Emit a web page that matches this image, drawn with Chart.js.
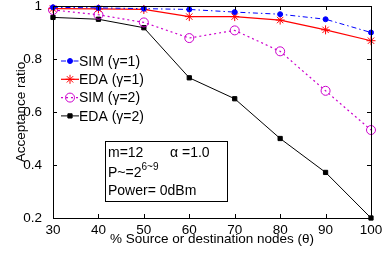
<!DOCTYPE html>
<html>
<head>
<meta charset="utf-8">
<script src="https://cdn.jsdelivr.net/npm/chart.js@4/dist/chart.umd.min.js"></script>
<style>
  html, body { margin: 0; padding: 0; background: #fff; }
  #wrap { width: 386px; height: 255px; }
</style>
</head>
<body>
<div id="wrap"><canvas id="chart" width="386" height="255"></canvas></div>
<script>
// values
const nodes = [30, 40, 50, 60, 70, 80, 90, 100];
const simG1 = [0.995, 0.993, 0.99, 0.987, 0.977, 0.969, 0.95, 0.90];
const edaG1 = [0.99, 0.989, 0.987, 0.96, 0.96, 0.947, 0.91, 0.869];
const simG2 = [0.985, 0.967, 0.938, 0.879, 0.908, 0.829, 0.68, 0.532];
const edaG2 = [0.957, 0.95, 0.918, 0.729, 0.65, 0.50, 0.372, 0.2];
const yTicks = [0.2, 0.4, 0.6, 0.8, 1];
const FONT = 'Liberation Sans, Arial, sans-serif';

const toPts = vals => vals.map((v, i) => ({ x: nodes[i], y: v }));

const series = [
    { label: 'SIM (\u03b3=1)', data: toPts(simG1), color: '#0000ff', dash: [5, 3, 1.5, 3], style: 'circle', r: 2.5, fill: true, width: 1 },
    { label: 'EDA (\u03b3=1)', data: toPts(edaG1), color: '#ff0000', dash: [], style: 'star', r: 4.5, fill: false, width: 1.2 },
    { label: 'SIM (\u03b3=2)', data: toPts(simG2), color: '#cc00cc', dash: [2, 3], style: 'circle', r: 4.5, fill: false, width: 1.2 },
    { label: 'EDA (\u03b3=2)', data: toPts(edaG2), color: '#000000', dash: [], style: 'rect', r: 3, fill: true, width: 1 }
];

// box + inward ticks, matlab style
const frame = {
    id: 'frame',
    afterDatasetsDraw(chart) {
        const { ctx, chartArea: a, scales } = chart;
        ctx.save();
        ctx.strokeStyle = '#000';
        ctx.lineWidth = 1;
        ctx.strokeRect(a.left + 0.5, a.top + 0.5, a.right - a.left, a.bottom - a.top);
        ctx.beginPath();
        nodes.forEach(v => {
            const x = Math.round(scales.x.getPixelForValue(v)) + 0.5;
            ctx.moveTo(x, a.bottom); ctx.lineTo(x, a.bottom - 4);
            ctx.moveTo(x, a.top); ctx.lineTo(x, a.top + 4);
        });
        yTicks.forEach(v => {
            const y = Math.round(scales.y.getPixelForValue(v)) + 0.5;
            ctx.moveTo(a.left, y); ctx.lineTo(a.left + 4, y);
            ctx.moveTo(a.right, y); ctx.lineTo(a.right - 4, y);
        });
        ctx.stroke();

        // y axis title
        ctx.save();
        ctx.fillStyle = '#000';
        ctx.font = '13.5px ' + FONT;
        ctx.textAlign = 'center';
        ctx.textBaseline = 'middle';
        ctx.translate(21, (a.top + a.bottom) / 2);
        ctx.rotate(-Math.PI / 2);
        ctx.fillText('Acceptance ratio', 0, 0);
        ctx.restore();

        // legend inside the axes
        ctx.font = '14px ' + FONT;
        ctx.textBaseline = 'middle';
        series.forEach((s, i) => {
            const y = 61 + i * 18.3;
            ctx.strokeStyle = s.color;
            ctx.lineWidth = s.width;
            ctx.setLineDash(s.dash);
            ctx.beginPath(); ctx.moveTo(61, y); ctx.lineTo(79, y); ctx.stroke();
            ctx.setLineDash([]);
            ctx.lineWidth = 1;
            ctx.fillStyle = s.fill ? s.color : 'rgba(0,0,0,0)';
            Chart.helpers.drawPoint(ctx, {
                pointStyle: s.style, radius: s.r, borderWidth: 1, rotation: 0
            }, 70, y);
            ctx.fillStyle = '#000';
            ctx.fillText(s.label, 79, y + 1);
        });

        // annotation box
        ctx.strokeStyle = '#000';
        ctx.lineWidth = 1;
        ctx.strokeRect(105.5, 141.5, 122, 60);
        ctx.fillStyle = '#000';
        ctx.textBaseline = 'alphabetic';
        ctx.font = '14px ' + FONT;
        ctx.fillText('m=12', 108, 157);
        ctx.fillText('\u03b1 =1.0', 170, 157);
        ctx.fillText('P~=2', 108, 177);
        const pw = ctx.measureText('P~=2').width;
        ctx.font = '10px ' + FONT;
        ctx.fillText('6~9', 108 + pw, 170);
        ctx.font = '14px ' + FONT;
        ctx.fillText('Power= 0dBm', 108, 195);
        ctx.restore();
    }
};

new Chart(document.getElementById('chart'), {
    type: 'line',
    data: {
        datasets: series.map(s => ({
            label: s.label,
            data: s.data,
            borderColor: s.color,
            borderWidth: s.width,
            borderDash: s.dash,
            backgroundColor: s.fill ? s.color : 'rgba(0,0,0,0)',
            pointBackgroundColor: s.fill ? s.color : 'rgba(0,0,0,0)',
            pointBorderColor: s.color,
            pointBorderWidth: 1,
            pointStyle: s.style,
            pointRadius: s.r,
            pointHoverRadius: s.r,
            tension: 0,
            fill: false,
            clip: false
        }))
    },
    options: {
        responsive: false,
        animation: false,
        layout: { padding: { top: 6, right: 15, left: 0, bottom: 0 } },
        plugins: { legend: { display: false }, tooltip: { enabled: false } },
        scales: {
            x: {
                type: 'linear',
                min: 30, max: 100,
                afterBuildTicks: s => { s.ticks = nodes.map(v => ({ value: v })); },
                afterFit: s => { s.height = 37; s.paddingLeft = 0; s.paddingRight = 0; },
                grid: { display: false },
                border: { display: false },
                ticks: { color: '#000', font: { family: FONT, size: 13.5 }, padding: -4, maxRotation: 0 },
                title: {
                    display: true,
                    text: '% Source or destination nodes (\u03b8)',
                    color: '#000',
                    font: { family: FONT, size: 13.5 },
                    padding: { top: 0, bottom: 8 }
                }
            },
            y: {
                min: 0.2, max: 1,
                afterBuildTicks: s => { s.ticks = yTicks.map(v => ({ value: v })); },
                afterFit: s => { s.width = 53; s.paddingTop = 0; s.paddingBottom = 0; },
                grid: { display: false },
                border: { display: false },
                ticks: {
                    color: '#000', font: { family: FONT, size: 13.5 }, padding: 3,
                    callback: v => (v === 1 ? '1' : v.toFixed(1))
                },
                title: { display: false }
            }
        }
    },
    plugins: [frame]
});
</script>
</body>
</html>
